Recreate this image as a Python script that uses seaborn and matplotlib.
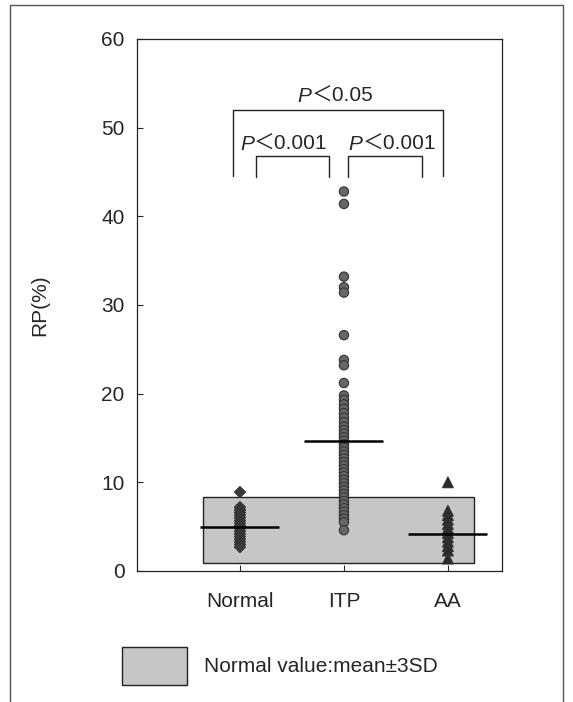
import numpy as np
import pandas as pd
import matplotlib
matplotlib.use("Agg")
import matplotlib.pyplot as plt
from matplotlib.patches import Rectangle
import seaborn as sns

# values (RP %)
groups = ["Normal", "ITP", "AA"]
normal_rp = [8.9, 7.2, 6.9, 6.6, 6.3, 6.0, 5.7, 5.4, 5.1, 4.8, 4.5, 4.2, 3.9, 3.6, 3.3, 3.0, 2.7]
itp_rp = [42.8, 41.4, 33.2, 32.0, 31.4, 26.6, 23.8, 23.2, 21.2,
          19.8, 19.3, 18.8, 18.3, 17.8, 17.3, 16.8, 16.3, 15.9, 15.5, 15.1,
          14.7, 14.3, 13.9, 13.5, 13.1, 12.7, 12.3, 11.9, 11.5, 11.1, 10.7,
          10.3, 9.9, 9.5, 9.1, 8.7, 8.3, 7.9, 7.5, 7.1, 6.7, 6.3, 5.9, 5.5, 4.6]
aa_rp = [10.0, 6.8, 6.3, 5.8, 5.3, 4.8, 4.3, 3.8, 3.3, 2.8, 2.3, 1.4]
group_means = [5.0, 14.7, 4.2]
normal_range = [0.9, 8.4]  # mean +- 3SD of normal controls

# significance brackets: (left group, right group, label)
comparisons = [(0, 2, "0.05"), (0, 1, "0.001"), (1, 2, "0.001")]

FONT = ["Liberation Sans", "Noto Sans CJK JP"]

sns.set_style("ticks")
plt.rcParams["font.family"] = FONT
plt.rcParams["font.size"] = 15

df = pd.DataFrame({
    "group": ["Normal"] * len(normal_rp) + ["ITP"] * len(itp_rp) + ["AA"] * len(aa_rp),
    "rp": normal_rp + itp_rp + aa_rp,
})

fig = plt.figure(figsize=(5.73, 7.02), dpi=100)
ax = fig.add_axes([137 / 573, 1 - 571 / 702, 365 / 573, 532 / 702])

# normal range box
ax.add_patch(Rectangle((-0.36, normal_range[0]), 2.61, normal_range[1] - normal_range[0],
                       facecolor="#c6c6c6", edgecolor="#222222", lw=1.0, zorder=1))

sns.scatterplot(data=df, x="group", y="rp", hue="group", style="group",
                markers={"Normal": "D", "ITP": "o", "AA": "^"},
                palette={"Normal": "#3a3a3a", "ITP": "#666666", "AA": "#2a2a2a"},
                size="group", sizes={"Normal": 32, "ITP": 45, "AA": 60},
                edgecolor="#333333", linewidth=0.8, legend=False, zorder=3, ax=ax)

# mean bars
for i, m in enumerate(group_means):
    ax.hlines(m, i - 0.38, i + 0.38, color="black", lw=1.8, zorder=4)

ax.set_xlim(-0.99, 2.52)
ax.set_ylim(0, 60)
ax.set_yticks(np.arange(0, 61, 10))
ax.set_xticks(range(len(groups)))
ax.set_xticklabels(groups)
ax.set_xlabel("")
ax.set_ylabel("RP(%)")
ax.yaxis.set_label_coords(-0.24, 0.5)
ax.tick_params(axis="y", direction="in", length=4, pad=9, labelsize=15)
ax.tick_params(axis="x", direction="in", length=4, pad=15, labelsize=15)
for sp in ax.spines.values():
    sp.set_linewidth(0.9)
    sp.set_color("#222222")

# brackets
bracket_y = {(0, 2): (44.6, 52.0), (0, 1): (44.4, 46.8), (1, 2): (44.4, 46.8)}
bracket_x = {(0, 2): (-0.07, 1.95), (0, 1): (0.15, 0.86), (1, 2): (1.04, 1.75)}
label_pos = {(0, 2): (0.69, 52.9), (0, 1): (0.135, 47.5), (1, 2): (1.18, 47.5)}
for a, b, txt in comparisons:
    x0, x1 = bracket_x[(a, b)]
    y0, y1 = bracket_y[(a, b)]
    ax.plot([x0, x0, x1, x1], [y0, y1, y1, y0], color="#222222", lw=1.0)
    lx, ly = label_pos[(a, b)]
    ax.text(lx, ly, "P", style="italic", ha="right", va="baseline", fontsize=15)
    ax.text(lx, ly, "＜" + txt, ha="left", va="baseline", fontsize=15)

# legend box
fig.add_artist(Rectangle((122 / 573, 1 - 685 / 702), 65 / 573, 38 / 702,
                         transform=fig.transFigure, facecolor="#c6c6c6",
                         edgecolor="#222222", lw=1.0))
fig.text(204 / 573, 1 - 666 / 702, "Normal value:mean±3SD", ha="left", va="center", fontsize=15)

# outer frame
fig.add_artist(Rectangle((10 / 573, -0.02), 553 / 573, 1.02 - 5 / 702,
                         transform=fig.transFigure, fill=False,
                         edgecolor="#555555", lw=1.0))

fig.savefig("out.png", dpi=100)
